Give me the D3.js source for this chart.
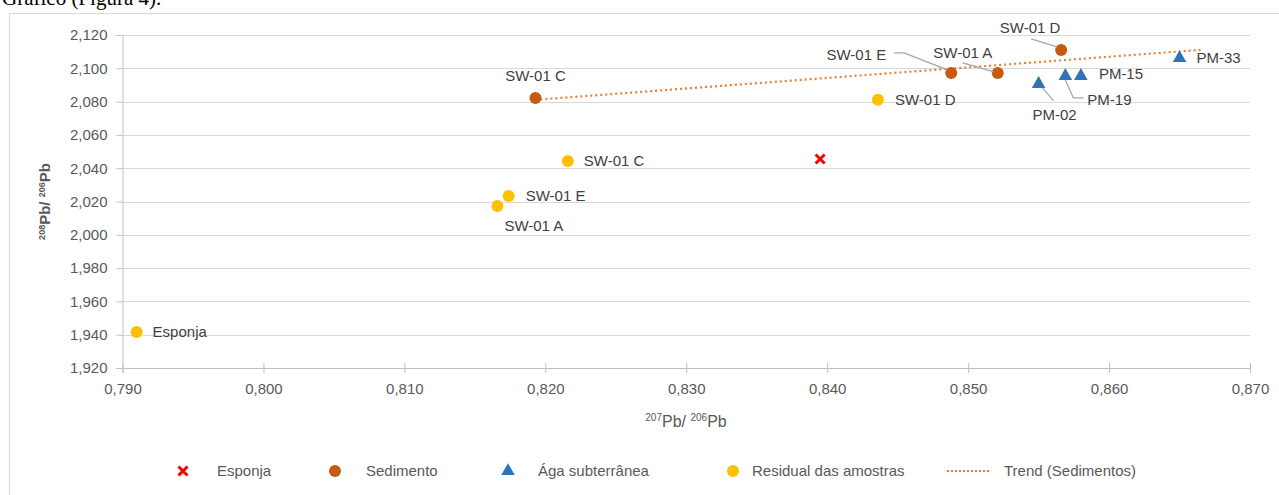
<!DOCTYPE html>
<html>
<head>
<meta charset="utf-8">
<script src="https://cdn.jsdelivr.net/npm/d3@7"></script>
<style>
  body { margin: 0; background: #fff; }
  svg { display: block; font-family: "Liberation Sans", Arial, sans-serif; }
</style>
</head>
<body>
<div class="canvas"></div>
<script>
// data
const esponjaNames = ['Esponja'];
const esponjaX = [0.8395];
const esponjaY = [2.0455];

const sedNames = ['SW-01 C', 'SW-01 E', 'SW-01 A', 'SW-01 D'];
const sedX = [0.8193, 0.8488, 0.8521, 0.8566];
const sedY = [2.0822, 2.0972, 2.0972, 2.1110];

const aguaNames = ['PM-02', 'PM-19', 'PM-15', 'PM-33'];
const aguaX = [0.8550, 0.8569, 0.8580, 0.8650];
const aguaY = [2.0906, 2.0954, 2.0954, 2.1062];

const resNames = ['Esponja', 'SW-01 A', 'SW-01 E', 'SW-01 C', 'SW-01 D'];
const resX = [0.7910, 0.8166, 0.8174, 0.8216, 0.8436];
const resY = [1.9416, 2.0173, 2.0233, 2.0443, 2.0811];

const xTicks = [0.79, 0.80, 0.81, 0.82, 0.83, 0.84, 0.85, 0.86, 0.87];
const yTicks = [1.92, 1.94, 1.96, 1.98, 2.00, 2.02, 2.04, 2.06, 2.08, 2.10, 2.12];
const trendEndX = 0.8665; // trendline forecast forward

const legendNames = ['Esponja', 'Sedimento', 'Ága subterrânea', 'Residual das amostras', 'Trend (Sedimentos)'];

// label placement (offsets from the point, px)
const labelPos = {
  'sed-SW-01 C': {dx: 0, dy: -22, anchor: 'middle'},
  'sed-SW-01 E': {dx: -65, dy: -18, anchor: 'end', leader: [[-57, -20], [-47, -20], [-4, -3]]},
  'sed-SW-01 A': {dx: -35, dy: -20, anchor: 'middle', leader: [[-35, -10], [-4, -1]]},
  'sed-SW-01 D': {dx: -31, dy: -22, anchor: 'middle', leader: [[-30, -11], [-4, -3]]},
  'agua-PM-02': {dx: 16, dy: 31, anchor: 'middle', leader: [[4, 4], [15, 17]]},
  'agua-PM-19': {dx: 22, dy: 24, anchor: 'start', leader: [[0, 4], [8, 22], [18, 22]]},
  'agua-PM-15': {dx: 18, dy: -2, anchor: 'start'},
  'agua-PM-33': {dx: 17, dy: 0, anchor: 'start'},
  'res-Esponja': {dx: 16, dy: 0, anchor: 'start'},
  'res-SW-01 A': {dx: 7, dy: 20, anchor: 'start'},
  'res-SW-01 E': {dx: 17, dy: 0, anchor: 'start'},
  'res-SW-01 C': {dx: 16, dy: 0, anchor: 'start'},
  'res-SW-01 D': {dx: 17, dy: 0, anchor: 'start'}
};

const colors = {esponja: '#ff0000', sed: '#c55a11', agua: '#2e75b6', res: '#ffc000', trend: '#ed7d31'};

const width = 1279, height = 495;
const margin = {top: 35, left: 122.5, right: 29, bottom: 127};
const graphWidth = width - margin.left - margin.right;
const graphHeight = height - margin.top - margin.bottom;

const svg = d3.select('.canvas')
  .append('svg')
    .attr('width', width)
    .attr('height', height);

// cut-off text of the page above the chart
svg.append('text')
  .attr('x', 2).attr('y', 5)
  .attr('font-family', '"Liberation Serif", serif')
  .attr('font-size', 21)
  .attr('fill', '#000')
  .text('Gráfico (Figura 4).');

// chart border
svg.append('rect')
  .attr('x', 9.5).attr('y', 13.5)
  .attr('width', 1300).attr('height', 500)
  .attr('fill', 'none')
  .attr('stroke', '#d9d9d9');

const graph = svg.append('g')
  .attr('transform', `translate(${margin.left}, ${margin.top})`);

const x = d3.scaleLinear().domain([0.79, 0.87]).range([0, graphWidth]);
const y = d3.scaleLinear().domain([1.92, 2.12]).range([graphHeight, 0]);

const ptFormat = d3.formatLocale({decimal: ',', thousands: '.', grouping: [3], currency: ['', '']}).format('.3f');

// gridlines
graph.append('g')
  .selectAll('line')
  .data(yTicks)
  .enter().append('line')
    .attr('x1', 0).attr('x2', graphWidth)
    .attr('y1', d => Math.round(y(d)) + 0.5).attr('y2', d => Math.round(y(d)) + 0.5)
    .attr('stroke', '#d9d9d9');

// axes
const yAxisGroup = graph.append('g')
  .call(d3.axisLeft(y).tickValues(yTicks).tickFormat(ptFormat).tickSize(6).tickPadding(9));
const xAxisGroup = graph.append('g')
  .attr('transform', `translate(0, ${graphHeight})`)
  .call(d3.axisBottom(x).tickValues(xTicks).tickFormat(ptFormat).tickSize(5).tickPadding(10));

[yAxisGroup, xAxisGroup].forEach(g => {
  g.select('.domain').attr('stroke', '#bfbfbf');
  g.selectAll('.tick line').attr('stroke', '#bfbfbf');
  g.selectAll('text').attr('fill', '#595959').attr('font-size', 15)
    .attr('font-family', '"Liberation Sans", Arial, sans-serif');
});
xAxisGroup.selectAll('.tick line').attr('y1', -5);

// axis titles
const xTitle = svg.append('text')
  .attr('x', 686).attr('y', 427)
  .attr('text-anchor', 'middle')
  .attr('fill', '#595959')
  .attr('font-size', 16);
xTitle.append('tspan').attr('font-size', 10).attr('dy', -6).text('207');
xTitle.append('tspan').attr('dy', 6).text('Pb/ ');
xTitle.append('tspan').attr('font-size', 10).attr('dy', -6).text('206');
xTitle.append('tspan').attr('dy', 6).text('Pb');

const yTitle = svg.append('text')
  .attr('transform', `translate(50, ${margin.top + graphHeight / 2}) rotate(-90)`)
  .attr('text-anchor', 'middle')
  .attr('fill', '#595959')
  .attr('font-weight', 'bold')
  .attr('font-size', 15);
yTitle.append('tspan').attr('font-size', 9).attr('dy', -5).text('208');
yTitle.append('tspan').attr('dy', 5).text('Pb/ ');
yTitle.append('tspan').attr('font-size', 9).attr('dy', -5).text('206');
yTitle.append('tspan').attr('dy', 5).text('Pb');

// trendline (least squares on sedimento)
const mx = d3.mean(sedX), my = d3.mean(sedY);
const slope = d3.sum(sedX, (v, i) => (v - mx) * (sedY[i] - my)) / d3.sum(sedX, v => (v - mx) ** 2);
const trendX = [d3.min(sedX), trendEndX];
graph.append('line')
  .attr('x1', x(trendX[0])).attr('y1', y(my + slope * (trendX[0] - mx)))
  .attr('x2', x(trendX[1])).attr('y2', y(my + slope * (trendX[1] - mx)))
  .attr('stroke', colors.trend)
  .attr('stroke-width', 2.2)
  .attr('stroke-dasharray', '2 3');

const makeSeries = (key, names, xs, ys) => names.map((n, i) => ({key, name: n, x: xs[i], y: ys[i]}));
const series = [
  makeSeries('sed', sedNames, sedX, sedY),
  makeSeries('agua', aguaNames, aguaX, aguaY),
  makeSeries('res', resNames, resX, resY),
  makeSeries('esponja', esponjaNames, esponjaX, esponjaY)
];

const triangle = d3.symbol().type(d3.symbolTriangle).size(80);
const cross = d3.symbol().type(d3.symbolX).size(55);

series.forEach(pts => {
  const g = graph.append('g');
  pts.forEach(d => {
    const px = x(d.x), py = y(d.y);
    if (d.key === 'agua') {
      g.append('path').attr('d', triangle).attr('transform', `translate(${px},${py})`).attr('fill', colors.agua);
    } else if (d.key === 'esponja') {
      g.append('path').attr('d', cross).attr('transform', `translate(${px},${py})`)
        .attr('stroke', colors.esponja).attr('stroke-width', 3).attr('fill', 'none');
    } else {
      g.append('circle').attr('cx', px).attr('cy', py).attr('r', 6).attr('fill', colors[d.key]);
    }
    const lp = labelPos[d.key + '-' + d.name];
    if (!lp) return;
    if (lp.leader) {
      graph.append('polyline')
        .attr('points', lp.leader.map(p => [px + p[0], py + p[1]].join(',')).join(' '))
        .attr('fill', 'none').attr('stroke', '#a6a6a6').attr('stroke-width', 1.3);
    }
    graph.append('text')
      .attr('x', px + lp.dx).attr('y', py + lp.dy)
      .attr('dy', '0.35em')
      .attr('text-anchor', lp.anchor)
      .attr('fill', '#404040')
      .attr('font-size', 15)
      .text(d.name);
  });
});

// legend
const legendX = [183, 335, 508, 733, 968];
const legendTextX = [217, 366, 538, 752, 1004];
const legendY = 471;
const legend = svg.append('g');
legend.append('path').attr('d', cross).attr('transform', `translate(${legendX[0]},${legendY})`)
  .attr('stroke', colors.esponja).attr('stroke-width', 3).attr('fill', 'none');
legend.append('circle').attr('cx', legendX[1]).attr('cy', legendY).attr('r', 6).attr('fill', colors.sed);
legend.append('path').attr('d', triangle).attr('transform', `translate(${legendX[2]},${legendY})`).attr('fill', colors.agua);
legend.append('circle').attr('cx', legendX[3]).attr('cy', legendY).attr('r', 6).attr('fill', colors.res);
legend.append('line')
  .attr('x1', legendX[4] - 21).attr('x2', legendX[4] + 22)
  .attr('y1', legendY).attr('y2', legendY)
  .attr('stroke', colors.trend).attr('stroke-width', 2).attr('stroke-dasharray', '2 2');
legend.selectAll('text')
  .data(legendNames)
  .enter().append('text')
    .attr('x', (d, i) => legendTextX[i])
    .attr('y', legendY)
    .attr('dy', '0.35em')
    .attr('fill', '#595959')
    .attr('font-size', 15)
    .text(d => d);
</script>
</body>
</html>
